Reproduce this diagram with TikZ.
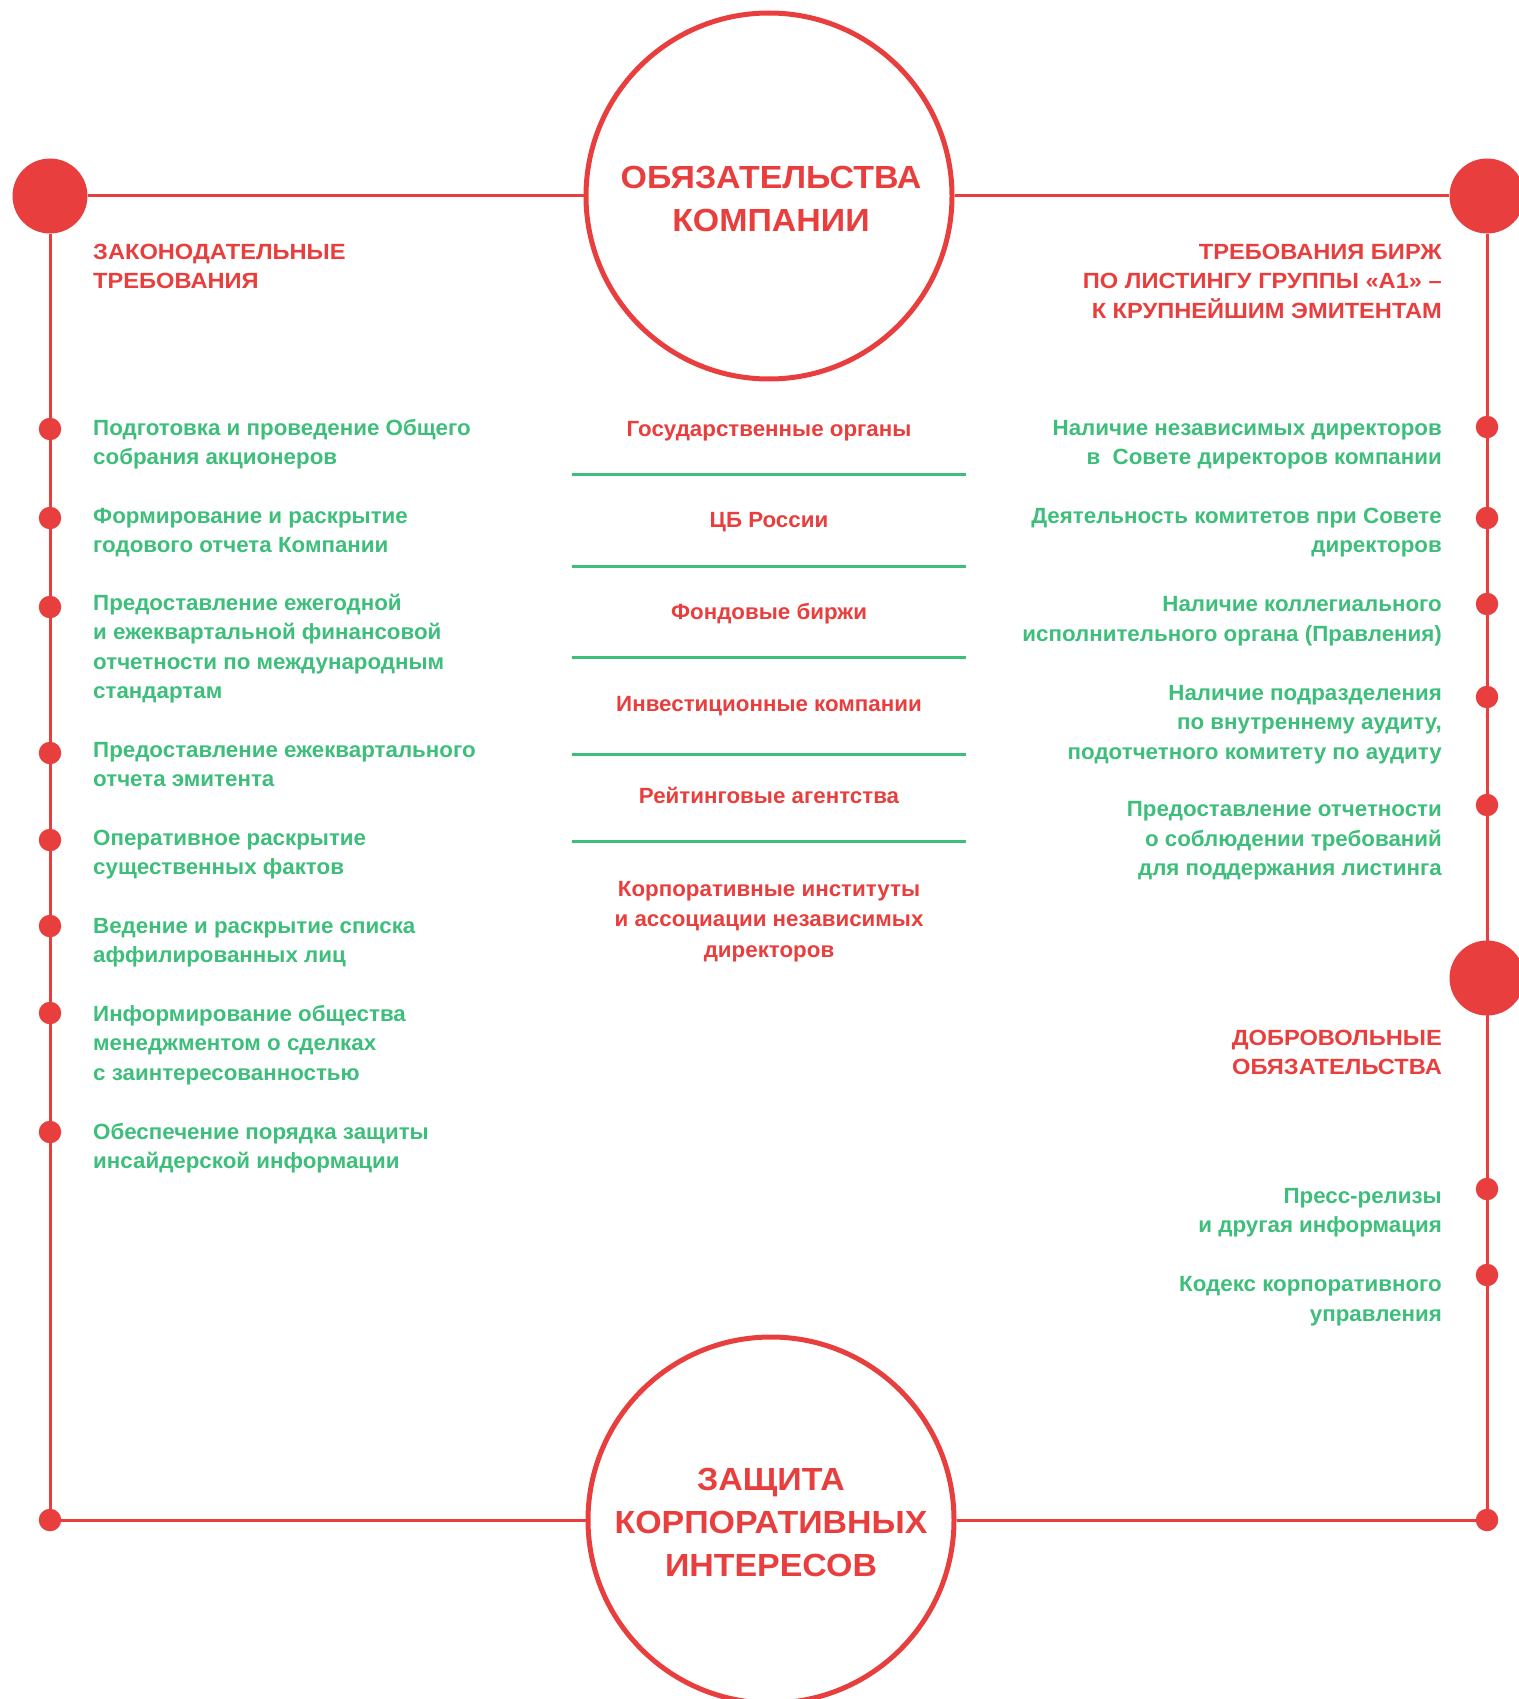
\documentclass[tikz,border=0pt]{standalone}
\usepackage{fontspec}
\setmainfont{Liberation Sans}
\newfontfamily\bodyf{Liberation Sans}[FakeStretch=1.015]
\newfontfamily\headf{Liberation Sans}[FakeStretch=1.075]
\newfontfamily\circf{Liberation Sans}[FakeStretch=1.06]
\definecolor{myred}{HTML}{E83E3D}
\definecolor{mygreen}{HTML}{3DBE7A}
\newcommand\fst{\rule{0pt}{20pt}}
\newcommand\bst{\rule{0pt}{30pt}}
\begin{document}
\begin{tikzpicture}[x=1pt,y=-1pt,
  bigc/.style={circle,draw=myred,line width=5pt,minimum size=366pt,inner sep=0pt},
  bigdot/.style={circle,fill=myred,minimum size=75pt,inner sep=0pt},
  dot/.style={circle,fill=myred,minimum size=22.5pt,inner sep=0pt},
  redline/.style={draw=myred,line width=3pt},
  sepline/.style={draw=mygreen,line width=3pt},
  gl/.style={font=\bodyf\bfseries\fontsize{22}{29.5}\selectfont,text=mygreen,inner sep=0pt,anchor=north west,align=left},
  gr/.style={font=\bodyf\bfseries\fontsize{22}{29.5}\selectfont,text=mygreen,inner sep=0pt,anchor=north east,align=right},
  hl/.style={gl,font=\headf\bfseries\fontsize{22}{29.5}\selectfont,text=myred},
  hr/.style={gr,font=\headf\bfseries\fontsize{22}{29.5}\selectfont,text=myred},
  cc/.style={font=\bodyf\bfseries\fontsize{22}{30.5}\selectfont,text=myred,inner sep=0pt,anchor=north,align=center},
  ct/.style={font=\circf\bfseries\fontsize{32}{43}\selectfont,text=myred,inner sep=0pt,anchor=north,align=center},
]
\useasboundingbox (0,0) rectangle (1518,1699);
% main circles and corner dots
\node[bigc] (top) at (769,196) {};
\node[bigc] (bot) at (771,1520) {};
\node[bigdot] (tl) at (50,196) {};
\node[bigdot] (tr) at (1487,196) {};
\node[bigdot] (mr) at (1487,978) {};
\node[dot] (bl) at (50,1520) {};
\node[dot] (br) at (1487,1520) {};
% frame lines
\draw[redline] (tl) -- (top);
\draw[redline] (top) -- (tr);
\draw[redline] (tl) -- (bl);
\draw[redline] (tr) -- (br);
\draw[redline] (bl) -- (bot);
\draw[redline] (bot) -- (br);
% left dots
\foreach \n/\y in {1/429,2/518,3/607,4/753,5/840,6/926,7/1013,8/1132}
  \node[dot] (l\n) at (50,\y) {};
% right dots
\foreach \n/\y in {1/427,2/518,3/604,4/697,5/805,6/1189,7/1275}
  \node[dot] (r\n) at (1487,\y) {};
% circle texts
\node[ct] (toptxt) at (771,158) {\bst ОБЯЗАТЕЛЬСТВА\\КОМПАНИИ};
\node[ct] (bottxt) at (771,1460) {\bst ЗАЩИТА\\КОРПОРАТИВНЫХ\\ИНТЕРЕСОВ};
% left column
\node[hl] (lh) at (93,239) {\fst ЗАКОНОДАТЕЛЬНЫЕ\\ТРЕБОВАНИЯ};
\node[gl] (lt1) at (93,415) {\fst Подготовка и проведение Общего\\собрания акционеров};
\node[gl] (lt2) at (93,503) {\fst Формирование и раскрытие\\годового отчета Компании};
\node[gl] (lt3) at (93,590) {\fst Предоставление ежегодной\\и ежеквартальной финансовой\\отчетности по международным\\стандартам};
\node[gl] (lt4) at (93,737) {\fst Предоставление ежеквартального\\отчета эмитента};
\node[gl] (lt5) at (93,825) {\fst Оперативное раскрытие\\существенных фактов};
\node[gl] (lt6) at (93,913) {\fst Ведение и раскрытие списка\\аффилированных лиц};
\node[gl] (lt7) at (93,1001) {\fst Информирование общества\\менеджментом о сделках\\с заинтересованностью};
\node[gl] (lt8) at (93,1119) {\fst Обеспечение порядка защиты\\инсайдерской информации};
% right column
\node[hr] (rh) at (1442,239) {\fst ТРЕБОВАНИЯ БИРЖ\\ПО ЛИСТИНГУ ГРУППЫ «А1» –\\К КРУПНЕЙШИМ ЭМИТЕНТАМ};
\node[gr] (rt1) at (1442,415) {\fst Наличие независимых директоров\\в~~Совете директоров компании};
\node[gr] (rt2) at (1442,503) {\fst Деятельность комитетов при Совете\\директоров};
\node[gr] (rt3) at (1442,591.5) {\fst Наличие коллегиального\\исполнительного органа (Правления)};
\node[gr] (rt4) at (1442,680) {\fst Наличие подразделения\\по внутреннему аудиту,\\подотчетного комитету по аудиту};
\node[gr] (rt5) at (1442,796.5) {\fst Предоставление отчетности\\о соблюдении требований\\для поддержания листинга};
\node[hr] (rh2) at (1442,1025) {\fst ДОБРОВОЛЬНЫЕ\\ОБЯЗАТЕЛЬСТВА};
\node[gr] (rt6) at (1442,1183) {\fst Пресс-релизы\\и другая информация};
\node[gr] (rt7) at (1442,1271.5) {\fst Кодекс корпоративного\\управления};
% centre column
\node[cc] (c1) at (769,416) {\fst Государственные органы};
\node[cc] (c2) at (769,507) {\fst ЦБ России};
\node[cc] (c3) at (769,599) {\fst Фондовые биржи};
\node[cc] (c4) at (769,691) {\fst Инвестиционные компании};
\node[cc] (c5) at (769,783) {\fst Рейтинговые агентства};
\node[cc] (c6) at (769,876) {\fst Корпоративные институты\\и ассоциации независимых\\директоров};
\foreach \y in {474,566,657,754,841}
  \draw[sepline] (572,\y) -- (966,\y);
\end{tikzpicture}
\end{document}
